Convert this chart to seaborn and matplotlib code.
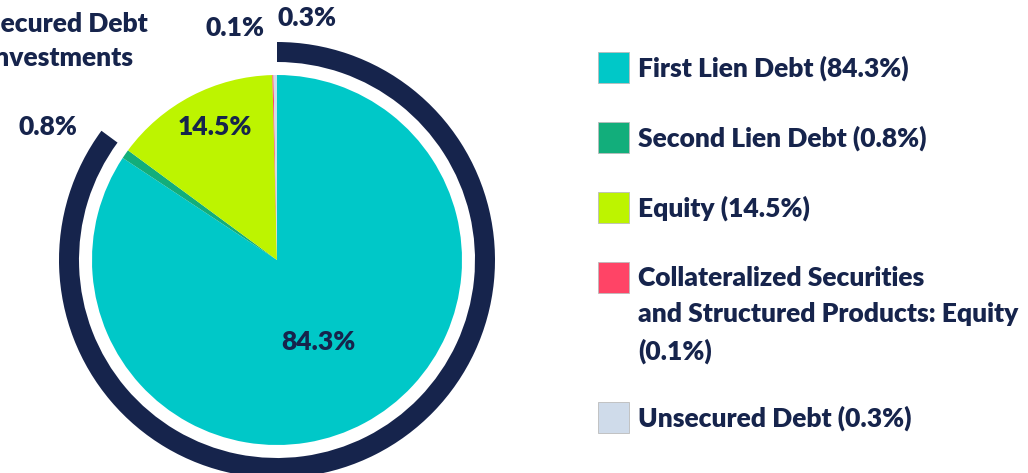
import matplotlib
matplotlib.use("Agg")
import matplotlib.pyplot as plt
import seaborn as sns
from matplotlib.patches import Wedge, Rectangle

# Donnees du portefeuille (en %)
categories = ["First Lien Debt", "Second Lien Debt", "Equity",
              "Collateralized Securities\nand Structured Products: Equity",
              "Unsecured Debt"]
parts = [84.3, 0.8, 14.5, 0.1, 0.3]
couleurs = ["#00C8C8", "#12AE7B", "#BDF400", "#FF4466", "#CFDBEA"]
secured = ["First Lien Debt", "Second Lien Debt"]
arc_label = "Secured Debt\nInvestments"

NAVY = "#16244C"
W, H = 1028, 473

sns.set_theme(style="white")
plt.rcParams["font.family"] = ["Lato", "DejaVu Sans"]
palette = sns.color_palette(couleurs)

fig = plt.figure(figsize=(W / 100, H / 100), dpi=100)
ax = fig.add_axes([0, 0, 1, 1])

cx, cy, r = 277, H - 260, 185
ax.pie(parts, colors=palette, startangle=90, counterclock=False,
       center=(cx, cy), radius=r, wedgeprops=dict(linewidth=0),
       frame=True)
ax.set_xlim(0, W)
ax.set_ylim(0, H)
ax.set_aspect("equal")
ax.axis("off")

# arc exterieur : dette garantie
part_sec = sum(p for c, p in zip(categories, parts) if c in secured)
ax.add_patch(Wedge((cx, cy), 218, 90 - part_sec * 3.6, 90, width=20,
                   facecolor=NAVY, edgecolor="none"))

# etiquettes du camembert
fs = 19
poids = "heavy"
txt = dict(fontsize=fs, fontweight=poids, color=NAVY, ha="center", va="center")
ax.text(318, H - 342, f"{parts[0]}%", **txt)
ax.text(215, H - 127, f"{parts[2]}%", **txt)
ax.text(48, H - 127, f"{parts[1]}%", **txt)
ax.text(235, H - 28, f"{parts[3]}%", **txt)
ax.text(307, H - 18, f"{parts[4]}%", **txt)
ax.text(-14, H - 41, arc_label, fontsize=fs, fontweight=poids, color=NAVY,
        ha="left", va="center", linespacing=1.5)

# legende manuelle
y = 68
for cat, p, col in zip(categories, parts, palette):
    lignes = (cat + f" ({p}%)").split("\n")
    if len(lignes) > 1:
        lignes = cat.split("\n") + [f"({p}%)"]
    ax.add_patch(Rectangle((598, H - y - 15), 31, 31, facecolor=col,
                           edgecolor="#BBBBBB", linewidth=0.6))
    for i, l in enumerate(lignes):
        ax.text(638, H - y - i * 36.5, l, fontsize=fs, fontweight=poids,
                color=NAVY, ha="left", va="center")
    y += 70 + (len(lignes) - 1) * 35

fig.savefig("out.png", dpi=100)
